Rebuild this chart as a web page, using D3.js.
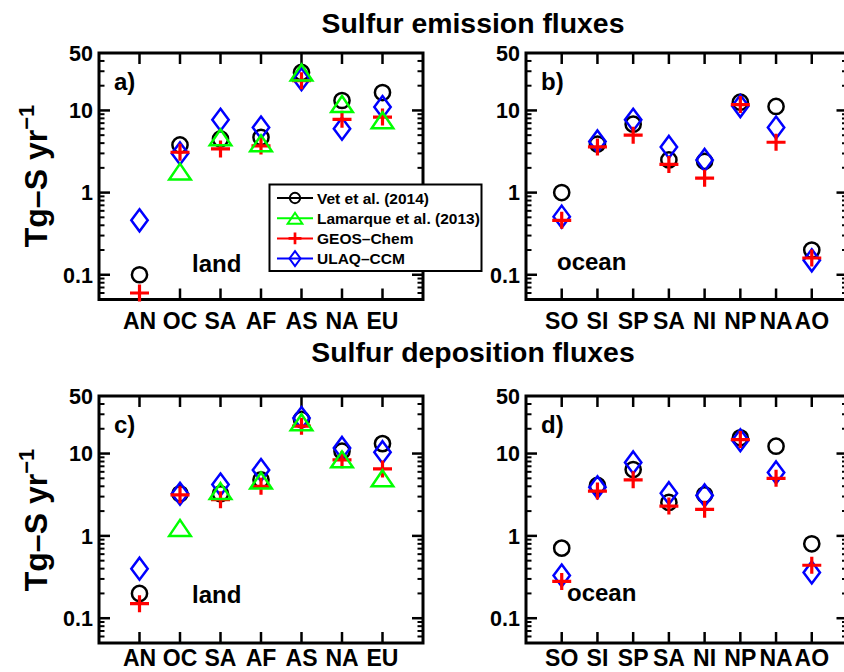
<!DOCTYPE html>
<html><head><meta charset="utf-8">
<script src="https://cdn.jsdelivr.net/npm/d3@7"></script>
<style>
html,body{margin:0;padding:0;background:#fff;}
svg{display:block;}
text{font-family:"Liberation Sans",Arial,Helvetica,sans-serif;font-weight:bold;fill:#000;}
</style></head><body>
<svg id="c" width="844" height="672"></svg>
<script>
// ---- data ----
const landCats = ["AN","OC","SA","AF","AS","NA","EU"];
const oceanCats = ["SO","SI","SP","SA","NI","NP","NA","AO"];
const seriesNames = ["Vet et al. (2014)","Lamarque et al. (2013)","GEOS\u2013Chem","ULAQ\u2013CCM"];
const yTickValues = [0.1, 1, 10, 50];
const yTickLabels = ["0.1","1","10","50"];

const emisLandVet  = [0.1, 3.8, 4.5, 4.7, 29, 13.2, 16.5];
const emisLandLam  = [null, 1.8, 4.7, 4.0, 29, 12, 7.6];
const emisLandGeos = [0.06, 3.1, 3.4, 3.7, 23, 7.8, 8.3];
const emisLandUlaq = [0.46, 3.0, 7.7, 6.2, 24, 6.0, 11];

const emisOceanVet  = [1.0, 3.9, 6.8, 2.5, 2.4, 12.6, 11.2, 0.2];
const emisOceanGeos = [0.46, 3.6, 5.0, 2.2, 1.5, 11.8, 4.1, 0.16];
const emisOceanUlaq = [0.51, 4.2, 7.7, 3.6, 2.5, 11.3, 6.2, 0.15];

const depLandVet  = [0.2, 3.25, 3.25, 4.8, 26, 10.7, 13.2];
const depLandLam  = [null, 1.25, 3.5, 4.7, 24, 8.5, 5.0];
const depLandGeos = [0.15, 3.15, 2.75, 4.0, 21.5, 8.4, 6.5];
const depLandUlaq = [0.4, 3.25, 4.2, 6.3, 27, 11.7, 10.4];

const depOceanVet  = [0.71, 4.1, 6.4, 2.55, 3.15, 15.5, 12.3, 0.8];
const depOceanGeos = [0.28, 3.5, 4.8, 2.3, 2.1, 14.8, 5.0, 0.44];
const depOceanUlaq = [0.33, 3.9, 7.8, 3.3, 3.1, 14.5, 5.9, 0.36];

// ---- styles ----
const colors = ["#000000","#00ff00","#ff0000","#0000ff"];
const svg = d3.select("#c");

function marker(g, type, x, y, s, color, sw) {
  if (type === 0) {
    g.append("circle").attr("cx", x).attr("cy", y).attr("r", 7.6*s)
      .attr("fill","none").attr("stroke",color).attr("stroke-width",sw);
  } else if (type === 1) {
    const hw = 10.8*s, hh = 8*s;
    g.append("path").attr("d", `M${x},${y-hh}L${x+hw},${y+hh}L${x-hw},${y+hh}Z`)
      .attr("fill","none").attr("stroke",color).attr("stroke-width",sw).attr("stroke-linejoin","miter");
  } else if (type === 2) {
    const hw = 9.5*s, hh = 8.5*s;
    g.append("path").attr("d", `M${x-hw},${y}L${x+hw},${y}M${x},${y-hh}L${x},${y+hh}`)
      .attr("fill","none").attr("stroke",color).attr("stroke-width",sw+0.7);
  } else {
    const hw = 8.2*s, hh = 11*s;
    g.append("path").attr("d", `M${x},${y-hh}L${x+hw},${y}L${x},${y+hh}L${x-hw},${y}Z`)
      .attr("fill","none").attr("stroke",color).attr("stroke-width",sw);
  }
}

function panel(opts) {
  const {x0,x1,y0,y1,cats,series,label,word,wordX,wordY,labDy} = opts;
  const g = svg.append("g");
  const x = d3.scaleLinear().domain([0, cats.length+1]).range([x0, x1]);
  const y = d3.scaleLog().domain([0.05, 50]).range([y1, y0]);

  // minor ticks
  const minor = [];
  [0.01,0.1,1,10].forEach(d => { for (let k=1;k<10;k++){ const v=d*k; if (v>0.05 && v<50 && ![0.1,1,10].includes(+v.toFixed(4))) minor.push(v);} });
  const major = [0.1,1,10];
  const tk = g.append("g").attr("stroke","#000");
  minor.forEach(v => {
    tk.append("line").attr("x1",x0).attr("x2",x0+5.5).attr("y1",y(v)).attr("y2",y(v)).attr("stroke-width",2);
    tk.append("line").attr("x1",x1).attr("x2",x1-5.5).attr("y1",y(v)).attr("y2",y(v)).attr("stroke-width",2);
  });
  major.forEach(v => {
    tk.append("line").attr("x1",x0).attr("x2",x0+11).attr("y1",y(v)).attr("y2",y(v)).attr("stroke-width",2.5);
    tk.append("line").attr("x1",x1).attr("x2",x1-11).attr("y1",y(v)).attr("y2",y(v)).attr("stroke-width",2.5);
  });
  cats.forEach((c,i) => {
    const xx = x(i+1);
    tk.append("line").attr("x1",xx).attr("x2",xx).attr("y1",y1).attr("y2",y1-11).attr("stroke-width",2.5);
    tk.append("line").attr("x1",xx).attr("x2",xx).attr("y1",y0).attr("y2",y0+11).attr("stroke-width",2.5);
  });
  // frame
  g.append("rect").attr("x",x0).attr("y",y0).attr("width",x1-x0).attr("height",y1-y0)
    .attr("fill","none").attr("stroke","#000").attr("stroke-width",3);

  // y tick labels
  yTickValues.forEach((v,i) => {
    g.append("text").attr("x", x0-6).attr("y", y(v)).attr("dy","0.36em")
      .attr("text-anchor","end").attr("font-size",21.5).text(yTickLabels[i]);
  });
  // x tick labels
  cats.forEach((c,i) => {
    g.append("text").attr("x", x(i+1)).attr("y", y1+labDy).attr("text-anchor","middle")
      .attr("font-size",23).text(c);
  });
  g.append("text").attr("x", x0+15).attr("y", y0+37).attr("font-size",24).text(label);
  g.append("text").attr("x", wordX).attr("y", wordY).attr("font-size",24).text(word);

  // markers: order circle, diamond, plus, triangle
  [0,3,2,1].forEach(si => {
    const vals = series[si];
    if (!vals) return;
    vals.forEach((v,i) => {
      if (v == null) return;
      marker(g, si, x(i+1), y(v), 1, colors[si], 2.5);
    });
  });
  return {x,y};
}

panel({x0:99,x1:423,y0:53,y1:299.5,cats:landCats,labDy:29,
  series:[emisLandVet,emisLandLam,emisLandGeos,emisLandUlaq],label:"a)",word:"land",wordX:192,wordY:272});
panel({x0:526,x1:847.5,y0:53,y1:299.5,cats:oceanCats,labDy:29,
  series:[emisOceanVet,null,emisOceanGeos,emisOceanUlaq],label:"b)",word:"ocean",wordX:557,wordY:270});
panel({x0:99,x1:423,y0:396,y1:643,cats:landCats,labDy:23,
  series:[depLandVet,depLandLam,depLandGeos,depLandUlaq],label:"c)",word:"land",wordX:192,wordY:603});
panel({x0:526,x1:847.5,y0:396,y1:643,cats:oceanCats,labDy:23,
  series:[depOceanVet,null,depOceanGeos,depOceanUlaq],label:"d)",word:"ocean",wordX:567,wordY:601});

// titles
svg.append("text").attr("x",473).attr("y",33).attr("text-anchor","middle").attr("font-size",28.4).text("Sulfur emission fluxes");
svg.append("text").attr("x",473).attr("y",362).attr("text-anchor","middle").attr("font-size",28.4).text("Sulfur deposition fluxes");

// y labels
[176, 520].forEach(cy => {
  const t = svg.append("text").attr("transform",`translate(47,${cy}) rotate(-90)`)
    .attr("text-anchor","middle").attr("font-size",32);
  t.append("tspan").text("Tg\u2013S yr");
  t.append("tspan").attr("dy",-13).attr("font-size",22).text("\u22121");
});

// legend
const lg = svg.append("g");
lg.append("rect").attr("x",269.5).attr("y",184.5).attr("width",212).attr("height",86.5)
  .attr("fill","#fff").attr("stroke","#000").attr("stroke-width",2);
seriesNames.forEach((n,i) => {
  const yy = 198 + i*20.2;
  lg.append("line").attr("x1",277).attr("x2",313).attr("y1",yy).attr("y2",yy)
    .attr("stroke",colors[i]).attr("stroke-width",2);
  marker(lg, i, 295, yy, 0.68, colors[i], 2);
  lg.append("text").attr("x",317).attr("y",yy).attr("dy","0.36em").attr("font-size",15.5).text(n);
});
</script></body></html>
